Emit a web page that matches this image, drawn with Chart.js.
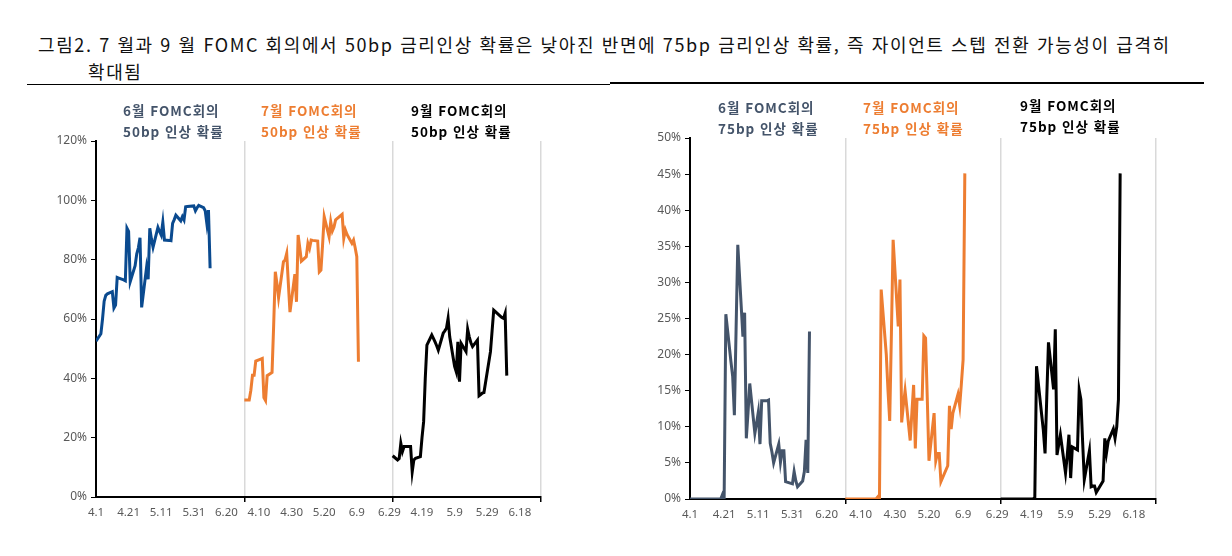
<!DOCTYPE html>
<html lang="ko">
<head>
<meta charset="utf-8">
<script src="https://cdn.jsdelivr.net/npm/chart.js@4.4.1/dist/chart.umd.min.js"></script>
<style>
  body { margin: 0; background: #fff; width: 1232px; height: 556px; position: relative; overflow: hidden;
         font-family: "Noto Sans CJK KR", "Noto Sans", sans-serif; }
  .title { position: absolute; font-size: 18px; letter-spacing: 1.6px; color: #111; white-space: nowrap; line-height: 27px; }
  .rule { position: absolute; background: #000; }
  .box { position: absolute; }
  .tag { position: absolute; font-size: 13.5px; letter-spacing: 1px; font-weight: bold; line-height: 21px; white-space: nowrap; }
</style>
</head>
<body>
<div class="title" style="left:38px; top:31px;">그림2. 7 월과 9 월 FOMC 회의에서 50bp 금리인상 확률은 낮아진 반면에 75bp 금리인상 확률, 즉 자이언트 스텝 전환 가능성이 급격히</div>
<div class="title" style="left:88px; top:58px;">확대됨</div>
<div class="rule" style="left:27px; top:84px; width:583px; height:1px;"></div>
<div class="rule" style="left:610px; top:82px; width:594px; height:2px;"></div>

<div class="box" style="left:0; top:125px; width:570px; height:410px;"><canvas id="chart50"></canvas></div>
<div class="box" style="left:600px; top:125px; width:590px; height:410px;"><canvas id="chart75"></canvas></div>

<div class="tag" style="left:123px; top:100px; color:#44546A;">6월 FOMC회의<br>50bp 인상 확률</div>
<div class="tag" style="left:261px; top:100px; color:#ED7D31;">7월 FOMC회의<br>50bp 인상 확률</div>
<div class="tag" style="left:411px; top:100px; color:#000;">9월 FOMC회의<br>50bp 인상 확률</div>
<div class="tag" style="left:718px; top:97px; color:#44546A;">6월 FOMC회의<br>75bp 인상 확률</div>
<div class="tag" style="left:863px; top:97px; color:#ED7D31;">7월 FOMC회의<br>75bp 인상 확률</div>
<div class="tag" style="left:1020px; top:95px; color:#000;">9월 FOMC회의<br>75bp 인상 확률</div>

<script>
// 거래일 (4.1 ~ 6.10, 5.30 휴장 제외)
const dates = ['4.1','4.4','4.5','4.6','4.7','4.8','4.11','4.12','4.13','4.14','4.15',
  '4.18','4.19','4.20','4.21','4.22','4.25','4.26','4.27','4.28','4.29',
  '5.2','5.3','5.4','5.5','5.6','5.9','5.10','5.11','5.12','5.13',
  '5.16','5.17','5.18','5.19','5.20','5.23','5.24','5.25','5.26','5.27',
  '5.31','6.1','6.2','6.3','6.6','6.7','6.8','6.9','6.10'];

// 50bp 인상 확률 (%)
const jun50 = [52.5,55,60,66,68,68.5,69.2,63.7,64.7,74,73.8,
  73.2,72.9,90.6,89.5,72.6,78,82,84,87.4,63.9,
  77.3,73.4,90.6,87,84.2,90.9,89.5,88.3,92.6,86.6,
  86.5,86.4,92.2,93.5,95,93.1,94.5,93.4,97.8,97.9,
  98.1,96.5,97.5,98.3,97.5,96.5,92.2,96.7,77.1];
const jul50 = [32.7,32.7,36,41,41,45.8,46.5,46.7,33.5,32.5,40.9,
  42,58,75.9,72,67.2,79.3,79.9,82.1,72,62.3,
  75.1,65.8,88.3,84,79.5,81,85.5,83.8,86.6,86.5,
  86.3,75.9,76.5,85,94.5,87.7,92.8,89.7,91,93.4,
  95.3,87.2,90,88.5,85.5,86.6,84,81,45.6];
const sep50 = [13.9,12.5,13,18.1,15.3,17,17,17,8.5,12.5,13,
  13.6,20,25.4,40,51.2,54.6,53.5,52.3,51,49.5,
  55.2,56,56.9,60.2,54,44,42.2,52.3,38.9,51.8,
  49,56.6,54,52,50.7,52.9,34.1,34.5,35,35.2,
  49,56,63,62.5,61,60.5,60.2,61.9,40.9];

// 75bp 인상 확률 (%)
const jun75 = [0,0,0,0,0,0,0,0,0,0,0,
  0,0,0.6,0,25.6,19,17,11.6,23.5,35.2,
  22.5,25.8,8.4,12,16,9.1,10.5,12,7.6,13.6,
  13.6,13.7,7.7,6.5,5,7.6,5.1,6.7,6.7,2.4,
  2.1,3.8,2.5,1.7,2.5,3.8,8.2,3.6,23.2];
const jul75 = [0,0,0,0,0,0,0,0,0,0,0,
  0,0,0.3,0,29,20,15,10.8,23,35.9,
  23.9,30.4,10.6,13,15,8.1,12,15.8,7,13.8,
  13.8,22.6,22.3,14,5.3,11.9,5.3,6.3,6.3,2.4,
  4.6,12.9,9.7,11.9,14.5,12.9,16,19.3,45.1];
const sep75 = [0,0,0,0,0,0,0,0,0,0,0,
  0,0,0,0.2,18.4,11.7,9.5,6.3,14,21.7,
  15.2,23.5,6.1,7.5,8.9,3.6,6,8.9,2.9,7.2,
  6.8,15.1,13.8,8,2.7,6.7,1.7,1.8,1.8,0.9,
  2.5,8.4,6.4,8,9.7,8.4,10,13.8,45.1];

// x축 눈금 (각 구간 4.1 ~ 6.30, 91일)
const tickDays = [0,20,40,60,80,100,120,140,160,180,200,220,240,260];
const tickLabels = ['4.1','4.21','5.11','5.31','6.20','4.10','4.30','5.20','6.9','6.29','4.19','5.9','5.29','6.18'];
const segDays = 91;
const seps = [segDays, segDays * 2, segDays * 3];

function dayOf(d) {
  const [m, day] = d.split('.').map(Number);
  if (m === 4) return day - 1;
  if (m === 5) return 29 + day;
  return 60 + day;
}

function toPoints(values, seg) {
  return values.map((v, i) => ({ x: dayOf(dates[i]) + seg * segDays, y: v }));
}

function makeChart(id, series, colors, yMax, yStep, yWidth, pad, xHeight) {
  const ctx = document.getElementById(id);
  return new Chart(ctx, {
    type: 'line',
    data: {
      datasets: series.map((s, i) => ({
        data: toPoints(s, i),
        borderColor: colors[i],
        borderWidth: 3,
        pointRadius: 0,
        tension: 0,
        fill: false
      }))
    },
    options: {
      responsive: true,
      maintainAspectRatio: false,
      animation: false,
      layout: { padding: pad },
      plugins: { legend: { display: false }, tooltip: { enabled: false } },
      scales: {
        x: {
          type: 'linear',
          min: 0,
          max: segDays * 3,
          afterBuildTicks: scale => {
            scale.ticks = tickDays.concat(seps).sort((a, b) => a - b).map(v => ({ value: v }));
          },
          afterFit: scale => { scale.height = xHeight; },
          ticks: {
            autoSkip: false,
            maxRotation: 0,
            padding: 4,
            color: '#595959',
            font: { family: '"Noto Sans", sans-serif', size: 11.5 },
            callback: v => {
              const k = tickDays.indexOf(v);
              return k >= 0 ? tickLabels[k] : '';
            }
          },
          grid: {
            color: c => seps.includes(c.tick && c.tick.value) ? '#D9D9D9' : 'rgba(0,0,0,0)',
            lineWidth: 1.5,
            tickLength: 5,
            tickColor: c => seps.includes(c.tick && c.tick.value) ? '#000' : 'rgba(0,0,0,0)'
          },
          border: { display: true, color: '#000', width: 2 }
        },
        y: {
          min: 0,
          max: yMax,
          afterFit: scale => { scale.width = yWidth; },
          ticks: {
            stepSize: yStep,
            padding: 4,
            color: '#595959',
            font: { family: '"Noto Sans", sans-serif', size: 12 },
            callback: v => v + '%'
          },
          grid: {
            drawOnChartArea: false,
            drawTicks: true,
            tickLength: 5,
            tickColor: '#000'
          },
          border: { display: true, color: '#000', width: 2 }
        }
      }
    }
  });
}

document.addEventListener('DOMContentLoaded', function () {
  makeChart('chart50', [jun50, jul50, sep50], ['#0A4A8F', '#ED7D31', '#000000'],
    120, 20, 96, { top: 16, right: 29, left: 0, bottom: 0 }, 38);
  makeChart('chart75', [jun75, jul75, sep75], ['#44546A', '#ED7D31', '#000000'],
    50, 5, 90, { top: 13, right: 34, left: 0, bottom: 0 }, 36);
});
</script>
</body>
</html>
